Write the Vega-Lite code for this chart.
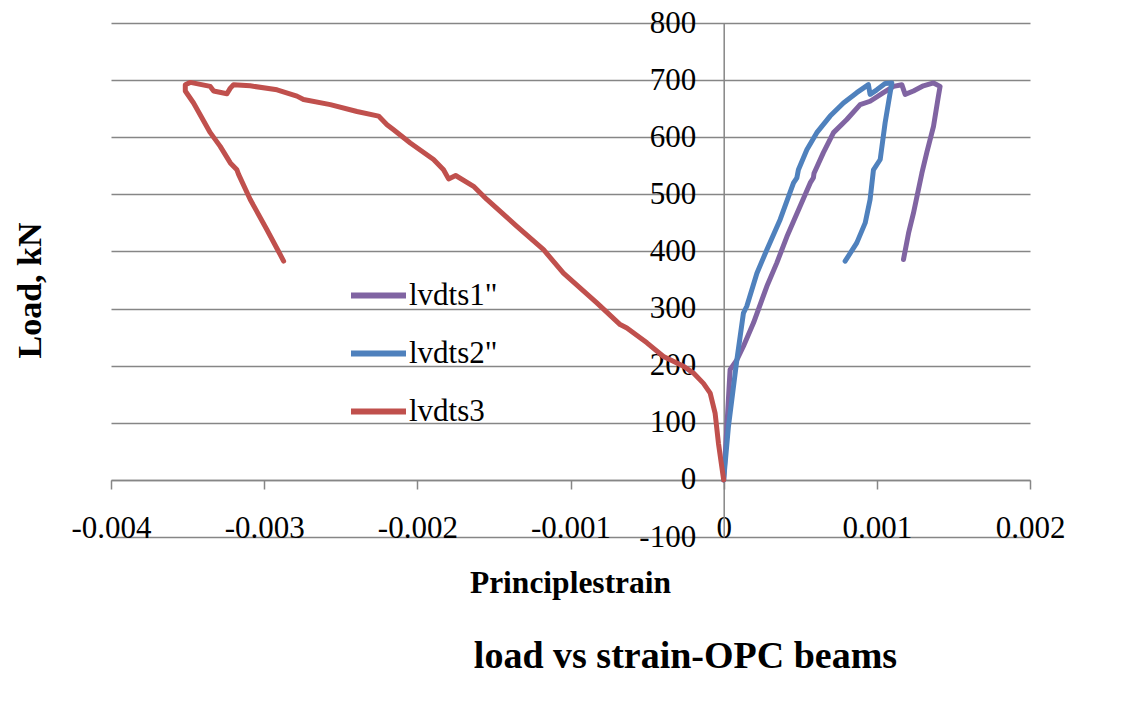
{
  "$schema": "https://vega.github.io/schema/vega-lite/v6.json",
  "width": 919,
  "height": 514,
  "autosize": "none",
  "padding": {"left": 111, "top": 23, "right": 93, "bottom": 165},
  "background": "white",
  "config": {"view": {"stroke": null}, "font": "Liberation Serif"},
  "title": {
    "text": "load vs strain-OPC beams",
    "orient": "bottom",
    "anchor": "middle",
    "frame": "group",
    "fontSize": 38,
    "fontWeight": "bold",
    "font": "Liberation Serif",
    "color": "black",
    "dx": 115,
    "offset": 39
  },
  "data": {
    "values": [
      {"s": "lvdts1\"", "i": 0, "x": 0, "y": 0},
      {"s": "lvdts1\"", "i": 1, "x": 0.000021, "y": 93},
      {"s": "lvdts1\"", "i": 2, "x": 0.000042, "y": 193},
      {"s": "lvdts1\"", "i": 3, "x": 0.000086, "y": 210},
      {"s": "lvdts1\"", "i": 4, "x": 0.000129, "y": 234},
      {"s": "lvdts1\"", "i": 5, "x": 0.000195, "y": 275},
      {"s": "lvdts1\"", "i": 6, "x": 0.000282, "y": 339},
      {"s": "lvdts1\"", "i": 7, "x": 0.000347, "y": 380},
      {"s": "lvdts1\"", "i": 8, "x": 0.000413, "y": 426},
      {"s": "lvdts1\"", "i": 9, "x": 0.000499, "y": 479},
      {"s": "lvdts1\"", "i": 10, "x": 0.000565, "y": 520},
      {"s": "lvdts1\"", "i": 11, "x": 0.000586, "y": 529},
      {"s": "lvdts1\"", "i": 12, "x": 0.00059, "y": 537},
      {"s": "lvdts1\"", "i": 13, "x": 0.000651, "y": 573},
      {"s": "lvdts1\"", "i": 14, "x": 0.000717, "y": 608},
      {"s": "lvdts1\"", "i": 15, "x": 0.000804, "y": 631},
      {"s": "lvdts1\"", "i": 16, "x": 0.000891, "y": 657},
      {"s": "lvdts1\"", "i": 17, "x": 0.000956, "y": 663},
      {"s": "lvdts1\"", "i": 18, "x": 0.001043, "y": 678},
      {"s": "lvdts1\"", "i": 19, "x": 0.001109, "y": 689},
      {"s": "lvdts1\"", "i": 20, "x": 0.001163, "y": 692},
      {"s": "lvdts1\"", "i": 21, "x": 0.001185, "y": 675},
      {"s": "lvdts1\"", "i": 22, "x": 0.001239, "y": 681},
      {"s": "lvdts1\"", "i": 23, "x": 0.001304, "y": 690},
      {"s": "lvdts1\"", "i": 24, "x": 0.00137, "y": 695},
      {"s": "lvdts1\"", "i": 25, "x": 0.001413, "y": 689},
      {"s": "lvdts1\"", "i": 26, "x": 0.001402, "y": 672},
      {"s": "lvdts1\"", "i": 27, "x": 0.00137, "y": 619},
      {"s": "lvdts1\"", "i": 28, "x": 0.001326, "y": 573},
      {"s": "lvdts1\"", "i": 29, "x": 0.001294, "y": 537},
      {"s": "lvdts1\"", "i": 30, "x": 0.001239, "y": 467},
      {"s": "lvdts1\"", "i": 31, "x": 0.001207, "y": 432},
      {"s": "lvdts1\"", "i": 32, "x": 0.001174, "y": 386},
      {"s": "lvdts2\"", "i": 0, "x": 0, "y": 0},
      {"s": "lvdts2\"", "i": 1, "x": 0.000031, "y": 93},
      {"s": "lvdts2\"", "i": 2, "x": 0.000086, "y": 210},
      {"s": "lvdts2\"", "i": 3, "x": 0.000129, "y": 292},
      {"s": "lvdts2\"", "i": 4, "x": 0.000151, "y": 304},
      {"s": "lvdts2\"", "i": 5, "x": 0.000217, "y": 362},
      {"s": "lvdts2\"", "i": 6, "x": 0.000282, "y": 403},
      {"s": "lvdts2\"", "i": 7, "x": 0.000369, "y": 456},
      {"s": "lvdts2\"", "i": 8, "x": 0.000456, "y": 520},
      {"s": "lvdts2\"", "i": 9, "x": 0.000478, "y": 529},
      {"s": "lvdts2\"", "i": 10, "x": 0.000488, "y": 543},
      {"s": "lvdts2\"", "i": 11, "x": 0.000543, "y": 578},
      {"s": "lvdts2\"", "i": 12, "x": 0.000608, "y": 608},
      {"s": "lvdts2\"", "i": 13, "x": 0.000695, "y": 637},
      {"s": "lvdts2\"", "i": 14, "x": 0.000782, "y": 660},
      {"s": "lvdts2\"", "i": 15, "x": 0.000869, "y": 678},
      {"s": "lvdts2\"", "i": 16, "x": 0.000945, "y": 692},
      {"s": "lvdts2\"", "i": 17, "x": 0.000956, "y": 675},
      {"s": "lvdts2\"", "i": 18, "x": 0.001, "y": 683},
      {"s": "lvdts2\"", "i": 19, "x": 0.001054, "y": 694},
      {"s": "lvdts2\"", "i": 20, "x": 0.001098, "y": 695},
      {"s": "lvdts2\"", "i": 21, "x": 0.001087, "y": 678},
      {"s": "lvdts2\"", "i": 22, "x": 0.001054, "y": 625},
      {"s": "lvdts2\"", "i": 23, "x": 0.001022, "y": 561},
      {"s": "lvdts2\"", "i": 24, "x": 0.000978, "y": 543},
      {"s": "lvdts2\"", "i": 25, "x": 0.000956, "y": 491},
      {"s": "lvdts2\"", "i": 26, "x": 0.000924, "y": 450},
      {"s": "lvdts2\"", "i": 27, "x": 0.000869, "y": 415},
      {"s": "lvdts2\"", "i": 28, "x": 0.000793, "y": 383},
      {"s": "lvdts3", "i": 0, "x": 0, "y": 0},
      {"s": "lvdts3", "i": 1, "x": -0.000034, "y": 64},
      {"s": "lvdts3", "i": 2, "x": -0.000056, "y": 117},
      {"s": "lvdts3", "i": 3, "x": -0.000088, "y": 152},
      {"s": "lvdts3", "i": 4, "x": -0.000132, "y": 169},
      {"s": "lvdts3", "i": 5, "x": -0.000197, "y": 187},
      {"s": "lvdts3", "i": 6, "x": -0.000262, "y": 199},
      {"s": "lvdts3", "i": 7, "x": -0.000393, "y": 216},
      {"s": "lvdts3", "i": 8, "x": -0.000501, "y": 240},
      {"s": "lvdts3", "i": 9, "x": -0.000632, "y": 266},
      {"s": "lvdts3", "i": 10, "x": -0.000676, "y": 272},
      {"s": "lvdts3", "i": 11, "x": -0.000828, "y": 310},
      {"s": "lvdts3", "i": 12, "x": -0.001046, "y": 362},
      {"s": "lvdts3", "i": 13, "x": -0.001176, "y": 403},
      {"s": "lvdts3", "i": 14, "x": -0.00135, "y": 444},
      {"s": "lvdts3", "i": 15, "x": -0.001546, "y": 491},
      {"s": "lvdts3", "i": 16, "x": -0.001633, "y": 514},
      {"s": "lvdts3", "i": 17, "x": -0.00175, "y": 533},
      {"s": "lvdts3", "i": 18, "x": -0.001796, "y": 527},
      {"s": "lvdts3", "i": 19, "x": -0.001829, "y": 543},
      {"s": "lvdts3", "i": 20, "x": -0.001894, "y": 561},
      {"s": "lvdts3", "i": 21, "x": -0.002046, "y": 590},
      {"s": "lvdts3", "i": 22, "x": -0.002155, "y": 613},
      {"s": "lvdts3", "i": 23, "x": -0.002198, "y": 622},
      {"s": "lvdts3", "i": 24, "x": -0.002253, "y": 637},
      {"s": "lvdts3", "i": 25, "x": -0.002394, "y": 645},
      {"s": "lvdts3", "i": 26, "x": -0.002568, "y": 657},
      {"s": "lvdts3", "i": 27, "x": -0.002743, "y": 666},
      {"s": "lvdts3", "i": 28, "x": -0.002786, "y": 672},
      {"s": "lvdts3", "i": 29, "x": -0.002916, "y": 683},
      {"s": "lvdts3", "i": 30, "x": -0.003091, "y": 690},
      {"s": "lvdts3", "i": 31, "x": -0.0032, "y": 692},
      {"s": "lvdts3", "i": 32, "x": -0.003221, "y": 686},
      {"s": "lvdts3", "i": 33, "x": -0.003243, "y": 676},
      {"s": "lvdts3", "i": 34, "x": -0.00333, "y": 681},
      {"s": "lvdts3", "i": 35, "x": -0.003352, "y": 689},
      {"s": "lvdts3", "i": 36, "x": -0.003482, "y": 696},
      {"s": "lvdts3", "i": 37, "x": -0.003515, "y": 692},
      {"s": "lvdts3", "i": 38, "x": -0.003515, "y": 681},
      {"s": "lvdts3", "i": 39, "x": -0.003461, "y": 660},
      {"s": "lvdts3", "i": 40, "x": -0.003352, "y": 608},
      {"s": "lvdts3", "i": 41, "x": -0.003287, "y": 584},
      {"s": "lvdts3", "i": 42, "x": -0.003221, "y": 555},
      {"s": "lvdts3", "i": 43, "x": -0.003178, "y": 543},
      {"s": "lvdts3", "i": 44, "x": -0.003167, "y": 535},
      {"s": "lvdts3", "i": 45, "x": -0.003091, "y": 491},
      {"s": "lvdts3", "i": 46, "x": -0.002982, "y": 438},
      {"s": "lvdts3", "i": 47, "x": -0.002906, "y": 400},
      {"s": "lvdts3", "i": 48, "x": -0.002873, "y": 383}
    ]
  },
  "mark": {"type": "line", "strokeWidth": 5, "strokeCap": "round", "strokeJoin": "round"},
  "encoding": {
    "x": {
      "field": "x",
      "type": "quantitative",
      "scale": {"domain": [-0.004, 0.002], "nice": false, "zero": false},
      "axis": {
        "orient": "bottom",
        "offset": -57,
        "values": [-0.004, -0.003, -0.002, -0.001, 0, 0.001, 0.002],
        "format": ".3~f",
        "labelExpr": "replace(datum.label, '−', '-')",
        "grid": false,
        "domainColor": "#868686",
        "domainWidth": 1.5,
        "tickColor": "#868686",
        "tickWidth": 1.5,
        "tickSize": 9,
        "labelPadding": 24,
        "labelFontSize": 31,
        "labelColor": "black",
        "labelFont": "Liberation Serif",
        "labelFlush": false,
        "labelOverlap": false,
        "title": "Principlestrain",
        "titleFont": "Liberation Serif",
        "titleFontSize": 31.5,
        "titleFontWeight": "bold",
        "titleColor": "black",
        "titleX": 459,
        "titleY": 112,
        "titleBaseline": "alphabetic",
        "titleAlign": "center"
      }
    },
    "y": {
      "field": "y",
      "type": "quantitative",
      "scale": {"domain": [-100, 800], "nice": false, "zero": false},
      "axis": {
        "orient": "left",
        "offset": -612.7,
        "values": [-100, 0, 100, 200, 300, 400, 500, 600, 700, 800],
        "labelExpr": "replace(datum.label, '−', '-')",
        "grid": true,
        "gridColor": "#868686",
        "gridWidth": 1.5,
        "ticks": false,
        "domainColor": "#868686",
        "domainWidth": 1.5,
        "labelPadding": 28,
        "labelFontSize": 31,
        "labelColor": "black",
        "labelFont": "Liberation Serif",
        "labelFlush": false,
        "labelOverlap": false,
        "title": "Load, kN",
        "titleFont": "Liberation Serif",
        "titleFontSize": 34,
        "titleFontWeight": "bold",
        "titleColor": "black",
        "titleAngle": -90,
        "titleX": -693,
        "titleY": 267,
        "titleBaseline": "middle",
        "titleAlign": "center"
      }
    },
    "color": {
      "field": "s",
      "type": "nominal",
      "scale": {"domain": ["lvdts1\"", "lvdts2\"", "lvdts3"], "range": ["#8064A2", "#4F81BD", "#C0504D"]},
      "legend": {
        "orient": "none",
        "legendX": 237,
        "legendY": 242,
        "title": null,
        "padding": 0,
        "symbolType": "stroke",
        "symbolSize": 3025,
        "symbolStrokeWidth": 6,
        "labelFontSize": 31,
        "labelFont": "Liberation Serif",
        "labelColor": "black",
        "labelOffset": 0,
        "rowPadding": 12
      }
    },
    "order": {"field": "i", "type": "quantitative"}
  }
}
